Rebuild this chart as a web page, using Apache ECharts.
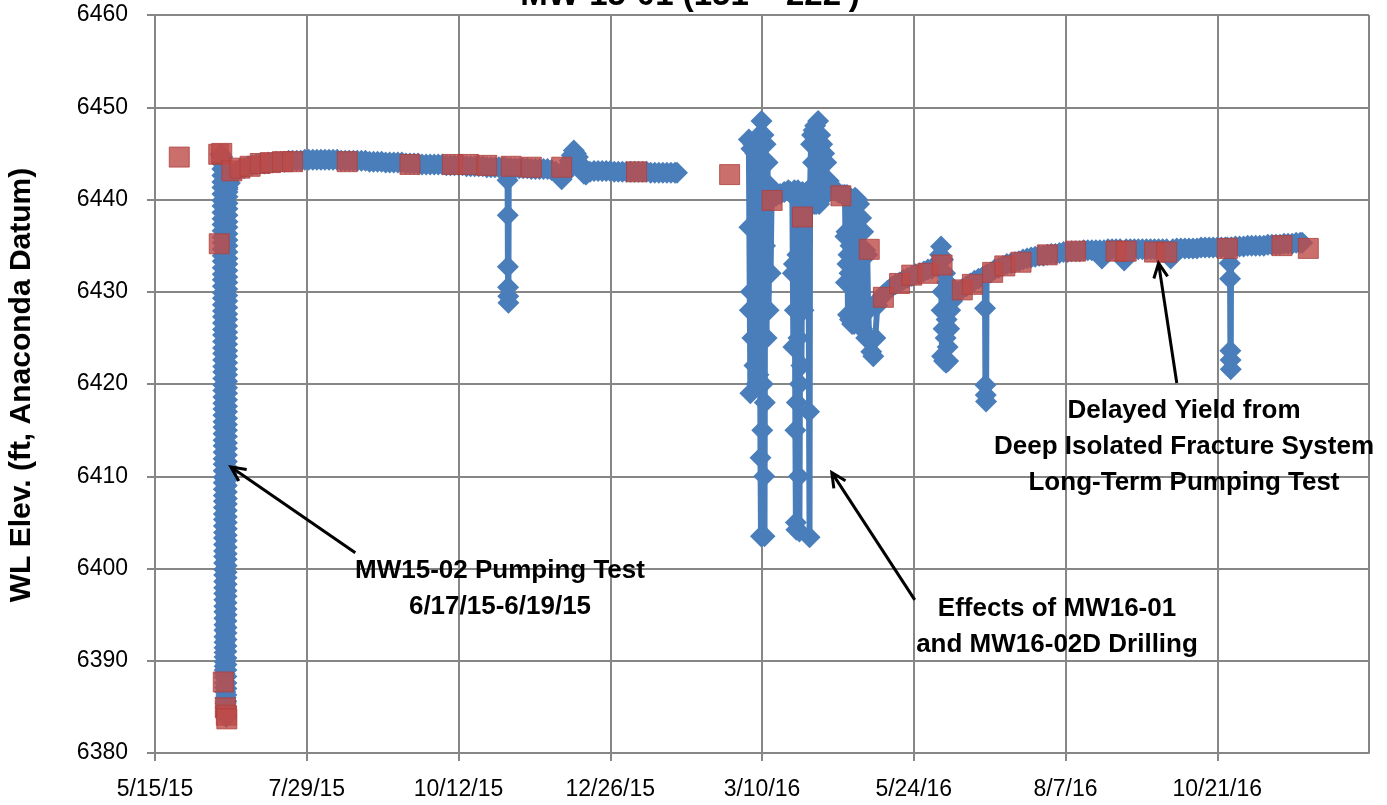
<!DOCTYPE html>
<html><head><meta charset="utf-8">
<script src="https://cdn.jsdelivr.net/npm/echarts@6/dist/echarts.min.js"></script>
<style>html,body{margin:0;padding:0;background:#fff}#c{width:1387px;height:805px}</style>
</head><body><div id="c"></div>
<script>
// ---------------- DATA ----------------
const chartTitle = "MW-15-01 (151' - 222')";
const yAxisTitle = 'WL Elev. (ft, Anaconda Datum)';
const xTickLabels = ['5/15/15','7/29/15','10/12/15','12/26/15','3/10/16','5/24/16','8/7/16','10/21/16','1/4/17'];

// pumping test transducer log: [row start, readings taken every LOG_STEP minutes]
const DRAWDOWN_LOG_STEP = 20;
const blueDrawdownLog = [
['2015-06-17 06:00',6444.6,6443.9,6443.3],['2015-06-17 07:00',6442.6,6441.9,6441.3],['2015-06-17 08:00',6440.6,6439.9,6439.3],
['2015-06-17 09:00',6438.6,6437.9,6437.3],['2015-06-17 10:00',6436.6,6435.9,6435.3],['2015-06-17 11:00',6434.6,6433.9,6433.3],
['2015-06-17 12:00',6432.6,6431.9,6431.3],['2015-06-17 13:00',6430.6,6429.9,6429.3],['2015-06-17 14:00',6428.6,6427.9,6427.3],
['2015-06-17 15:00',6426.6,6425.9,6425.3],['2015-06-17 16:00',6424.6,6423.9,6423.3],['2015-06-17 17:00',6422.6,6421.9,6421.3],
['2015-06-17 18:00',6420.6,6419.9,6419.3],['2015-06-17 19:00',6418.6,6417.9,6417.3],['2015-06-17 20:00',6416.6,6415.9,6415.3],
['2015-06-17 21:00',6414.6,6413.9,6413.3],['2015-06-17 22:00',6412.6,6411.9,6411.3],['2015-06-17 23:00',6410.6,6409.9,6409.3],
['2015-06-18 00:00',6408.6,6407.9,6407.3],['2015-06-18 01:00',6406.6,6405.9,6405.3],['2015-06-18 02:00',6404.6,6403.9,6403.3],
['2015-06-18 03:00',6402.6,6401.9,6401.3],['2015-06-18 04:00',6400.6,6399.9,6399.3],['2015-06-18 05:00',6398.6,6397.9,6397.3],
['2015-06-18 06:00',6396.6,6395.9,6395.3],['2015-06-18 07:00',6394.6,6393.9,6393.3],['2015-06-18 08:00',6392.6,6392.0,6391.4],
['2015-06-18 09:00',6390.9,6390.4,6389.9],['2015-06-18 10:00',6389.4,6389.0,6388.6]
];
const blueDrawdownTail = [
['2015-06-18 12:00',6388.2],['2015-06-18 14:00',6387.6],['2015-06-18 16:00',6387.1],['2015-06-18 18:00',6386.6],
['2015-06-18 20:00',6386.0],['2015-06-18 22:00',6385.4],['2015-06-19 00:00',6384.9],['2015-06-19 02:00',6384.5],
['2015-06-19 04:00',6384.2],['2015-06-19 05:00',6384.0],['2015-06-19 05:40',6383.9]
];
const RECOVERY_LOG_STEP = 10;
const blueRecoveryLog = [
['2015-06-19 06:00',6385.0,6385.6,6386.3],['2015-06-19 06:30',6387.0,6387.6,6388.3],['2015-06-19 07:00',6389.0,6389.6,6390.3],
['2015-06-19 07:30',6391.0,6391.6,6392.3],['2015-06-19 08:00',6393.0,6393.6,6394.3],['2015-06-19 08:30',6395.0,6395.6,6396.3],
['2015-06-19 09:00',6397.0,6397.6,6398.3],['2015-06-19 09:30',6399.0,6399.6,6400.3],['2015-06-19 10:00',6401.0,6401.6,6402.3],
['2015-06-19 10:30',6403.0,6403.6,6404.3],['2015-06-19 11:00',6405.0,6405.6,6406.3],['2015-06-19 11:30',6407.0,6407.6,6408.3],
['2015-06-19 12:00',6409.0,6409.6,6410.3],['2015-06-19 12:30',6411.0,6411.6,6412.3],['2015-06-19 13:00',6413.0,6413.6,6414.3],
['2015-06-19 13:30',6415.0,6415.6,6416.3],['2015-06-19 14:00',6417.0,6417.6,6418.3],['2015-06-19 14:30',6419.0,6419.6,6420.3],
['2015-06-19 15:00',6421.0,6421.6,6422.3],['2015-06-19 15:30',6423.0,6423.6,6424.3],['2015-06-19 16:00',6425.0,6425.6,6426.3],
['2015-06-19 16:30',6427.0,6427.6,6428.3],['2015-06-19 17:00',6429.0,6429.6,6430.3],['2015-06-19 17:30',6431.0,6431.6,6432.3],
['2015-06-19 18:00',6433.0,6433.6,6434.3],['2015-06-19 18:30',6435.0,6435.6,6436.3],['2015-06-19 19:00',6437.0,6437.6,6438.3],
['2015-06-19 19:30',6439.0,6439.6,6440.3],['2015-06-19 20:00',6440.8,6441.1,6441.3]
];
const bluePreTest = [['2015-06-16 12:00',6444.9]];
const blue2015 = [
['2015-06-21 00:00',6441.8],
['2015-06-22',6442.6],['2015-06-24',6443.0],['2015-06-26',6443.3],['2015-06-28',6443.4],['2015-06-30',6443.6],
['2015-07-02',6443.7],['2015-07-04',6443.8],['2015-07-06',6443.9],['2015-07-08',6443.9],['2015-07-10',6444.0],
['2015-07-12',6444.0],['2015-07-14',6444.1],['2015-07-16',6444.1],['2015-07-18',6444.1],['2015-07-20',6444.2],
['2015-07-22',6444.2],['2015-07-24',6444.2],['2015-07-26',6444.2],['2015-07-28',6444.3],['2015-07-30',6444.3],
['2015-08-01',6444.3],['2015-08-03',6444.3],['2015-08-05',6444.3],['2015-08-07',6444.3],['2015-08-09',6444.3],
['2015-08-11',6444.3],['2015-08-13',6444.3],['2015-08-15',6444.2],['2015-08-17',6444.2],['2015-08-19',6444.2],
['2015-08-21',6444.2],['2015-08-23',6444.2],['2015-08-25',6444.2],['2015-08-27',6444.2],['2015-08-29',6444.1],
['2015-08-31',6444.1],['2015-09-02',6444.1],['2015-09-04',6444.1],['2015-09-06',6444.0],['2015-09-08',6444.0],
['2015-09-10',6444.0],['2015-09-12',6444.0],['2015-09-14',6444.0],['2015-09-16',6443.9],['2015-09-18',6443.9],
['2015-09-20',6443.9],['2015-09-22',6443.9],['2015-09-24',6443.8],['2015-09-26',6443.8],['2015-09-28',6443.8],
['2015-09-30',6443.8],['2015-10-02',6443.8],['2015-10-04',6443.8],['2015-10-06',6443.7],['2015-10-08',6443.7],
['2015-10-10',6443.7],['2015-10-12',6443.7],['2015-10-14',6443.7],['2015-10-16',6443.6],['2015-10-18',6443.6],
['2015-10-20',6443.6],['2015-10-22',6443.6],['2015-10-24',6443.6],['2015-10-26',6443.5],['2015-10-28',6443.5],
['2015-10-30',6443.5],['2015-11-01',6443.5],['2015-11-03',6443.5],['2015-11-04',6443.5],
['2015-11-05 06:00',6442.1],['2015-11-05 08:00',6438.3],['2015-11-05 10:00',6432.7],['2015-11-05 12:00',6430.5],
['2015-11-05 14:00',6429.5],['2015-11-05 16:00',6428.8],['2015-11-05 20:00',6443.4],
['2015-11-07',6443.4],['2015-11-09',6443.4],['2015-11-11',6443.4],['2015-11-13',6443.4],['2015-11-15',6443.4],
['2015-11-17',6443.3],['2015-11-19',6443.3],['2015-11-21',6443.3],['2015-11-23',6443.3],['2015-11-25',6443.3],
['2015-11-27',6443.2],['2015-11-29',6443.0],['2015-12-01',6442.6],['2015-12-02',6442.2],['2015-12-03',6442.6],
['2015-12-04',6443.0],['2015-12-05',6443.6],['2015-12-06',6444.2],['2015-12-07',6444.8],['2015-12-08',6445.3],
['2015-12-09',6445.0],['2015-12-10',6444.6],['2015-12-11',6443.9],['2015-12-12',6443.2],['2015-12-13',6442.8],
['2015-12-14',6442.7],['2015-12-16',6443.0],['2015-12-18',6443.1],['2015-12-20',6443.1],['2015-12-22',6443.1],
['2015-12-24',6443.1],['2015-12-26',6443.1],['2015-12-28',6443.0],['2015-12-30',6443.0],['2016-01-01',6443.0],
['2016-01-03',6443.0],['2016-01-05',6443.0],['2016-01-07',6443.0],['2016-01-09',6443.0],['2016-01-11',6443.0],
['2016-01-13',6443.0],['2016-01-15',6442.9],['2016-01-17',6442.9],['2016-01-19',6442.9],['2016-01-21',6442.9],
['2016-01-23',6442.9],['2016-01-25',6442.9],['2016-01-27',6442.9],['2016-01-28',6442.9]
];
const blueGap = [['2016-02-10',null]];
const blueDrilling2016 = [
['2016-03-03 12:00',6446.5],['2016-03-03 18:00',6437.0],['2016-03-04 00:00',6428.0],['2016-03-04 06:00',6419.0],
['2016-03-04 12:00',6430.0],['2016-03-04 18:00',6445.5],['2016-03-05 06:00',6425.0],['2016-03-05 18:00',6446.0],
['2016-03-06 06:00',6422.0],['2016-03-06 18:00',6445.0],['2016-03-07 06:00',6420.0],['2016-03-07 18:00',6446.5],
['2016-03-08 06:00',6421.0],['2016-03-08 18:00',6447.0],['2016-03-09 00:00',6430.0],['2016-03-09 06:00',6412.0],
['2016-03-09 12:00',6403.5],['2016-03-09 15:00',6425.0],['2016-03-09 18:00',6448.5],['2016-03-10 00:00',6430.0],
['2016-03-10 03:00',6415.0],['2016-03-10 06:00',6403.6],['2016-03-10 09:00',6420.0],['2016-03-10 12:00',6440.0],
['2016-03-10 18:00',6447.0],['2016-03-11 00:00',6425.0],['2016-03-11 03:00',6410.0],['2016-03-11 06:00',6403.5],
['2016-03-11 09:00',6418.0],['2016-03-11 12:00',6435.0],['2016-03-11 18:00',6446.0],['2016-03-12 06:00',6425.0],
['2016-03-12 18:00',6444.0],['2016-03-13 06:00',6428.0],['2016-03-13 18:00',6441.5],['2016-03-14 06:00',6432.0],
['2016-03-14 18:00',6440.5],['2016-03-15 12:00',6440.2],['2016-03-17 00:00',6440.4],['2016-03-19 00:00',6440.6],
['2016-03-21 00:00',6440.8],['2016-03-23 00:00',6441.0],['2016-03-24 00:00',6440.8],['2016-03-25 00:00',6440.5],
['2016-03-25 06:00',6432.0],['2016-03-25 12:00',6424.0],['2016-03-25 18:00',6433.0],['2016-03-26 00:00',6441.0],
['2016-03-26 06:00',6428.0],['2016-03-26 12:00',6415.0],['2016-03-26 18:00',6405.0],['2016-03-27 00:00',6404.2],
['2016-03-27 06:00',6418.0],['2016-03-27 12:00',6434.0],['2016-03-27 18:00',6441.0],['2016-03-28 00:00',6425.0],
['2016-03-28 06:00',6410.0],['2016-03-28 12:00',6404.0],['2016-03-28 18:00',6420.0],['2016-03-29 00:00',6440.5],
['2016-03-29 12:00',6422.0],['2016-03-30 00:00',6440.8],['2016-03-30 12:00',6428.0],['2016-03-31 00:00',6440.5],
['2016-04-01 00:00',6440.8],['2016-04-02 00:00',6441.0],['2016-04-02 06:00',6417.0],['2016-04-02 12:00',6403.4],
['2016-04-02 18:00',6441.0],['2016-04-03 06:00',6446.0],['2016-04-03 12:00',6441.0],['2016-04-03 18:00',6447.0],
['2016-04-04 00:00',6440.0],['2016-04-04 06:00',6444.0],['2016-04-04 12:00',6447.5],['2016-04-04 18:00',6439.5],
['2016-04-05 06:00',6448.0],['2016-04-05 18:00',6439.5],['2016-04-06 06:00',6446.0],['2016-04-06 18:00',6448.5],
['2016-04-07 00:00',6442.0],['2016-04-07 06:00',6439.5],['2016-04-07 18:00',6447.0],['2016-04-08 06:00',6440.0],
['2016-04-08 18:00',6446.0],['2016-04-09 06:00',6440.5],['2016-04-09 18:00',6445.0],['2016-04-10 06:00',6441.0],
['2016-04-10 18:00',6444.0],['2016-04-11 06:00',6441.0],['2016-04-12 00:00',6442.0],['2016-04-13 00:00',6441.5],
['2016-04-15 00:00',6441.0],['2016-04-17 00:00',6440.7],['2016-04-19 00:00',6440.5],
['2016-04-20 00:00',6440.5],['2016-04-20 06:00',6436.0],['2016-04-20 12:00',6431.0],['2016-04-20 18:00',6436.5],
['2016-04-21 00:00',6440.5],['2016-04-21 06:00',6433.0],['2016-04-21 12:00',6427.5],['2016-04-21 18:00',6434.0],
['2016-04-22 00:00',6440.3],['2016-04-22 06:00',6432.0],['2016-04-22 12:00',6427.0],['2016-04-22 18:00',6435.0],
['2016-04-23 00:00',6440.0],['2016-04-23 06:00',6431.0],['2016-04-23 12:00',6426.5],['2016-04-23 18:00',6433.0],
['2016-04-24 00:00',6440.0],['2016-04-24 06:00',6432.0],['2016-04-24 12:00',6426.5],['2016-04-24 18:00',6434.0],
['2016-04-25 00:00',6440.2],['2016-04-25 06:00',6431.0],['2016-04-25 12:00',6427.0],['2016-04-25 18:00',6435.0],
['2016-04-26 00:00',6440.0],['2016-04-26 06:00',6432.0],['2016-04-26 12:00',6427.5],['2016-04-26 18:00',6434.0],
['2016-04-27 00:00',6439.5],['2016-04-27 12:00',6430.0],['2016-04-28 00:00',6438.0],['2016-04-28 12:00',6426.0],
['2016-04-29 00:00',6436.5],['2016-04-29 12:00',6428.0],['2016-04-30 00:00',6434.5],['2016-04-30 12:00',6425.0],
['2016-05-01 00:00',6434.0],['2016-05-01 12:00',6428.0],['2016-05-02 00:00',6425.0],['2016-05-03 00:00',6423.5],
['2016-05-04 00:00',6423.0],['2016-05-05 00:00',6425.0],['2016-05-06 00:00',6428.5]
];
const blueRecovery2016 = [
['2016-05-07',6429.2],['2016-05-09',6429.7],['2016-05-11',6430.1],['2016-05-13',6430.5],['2016-05-15',6430.8],
['2016-05-17',6431.0],['2016-05-19',6431.3],['2016-05-21',6431.5],['2016-05-23',6431.7],['2016-05-25',6431.9],
['2016-05-27',6432.0],['2016-05-29',6432.2],['2016-05-31',6432.4],['2016-06-02',6432.5],['2016-06-04',6432.8],
['2016-06-05 00:00',6433.2],['2016-06-06 00:00',6434.0],['2016-06-06 12:00',6434.9],['2016-06-06 18:00',6428.0],
['2016-06-07 00:00',6423.0],['2016-06-07 06:00',6430.0],['2016-06-07 12:00',6433.5],['2016-06-07 18:00',6426.0],
['2016-06-08 00:00',6422.5],['2016-06-08 06:00',6428.0],['2016-06-08 12:00',6432.0],['2016-06-08 18:00',6425.0],
['2016-06-09 00:00',6422.3],['2016-06-09 06:00',6427.0],['2016-06-09 12:00',6431.0],['2016-06-09 18:00',6424.0],
['2016-06-10 00:00',6422.5],['2016-06-10 12:00',6426.0],['2016-06-11 00:00',6428.0],['2016-06-12 00:00',6429.0],
['2016-06-13',6429.6],['2016-06-15',6430.0],['2016-06-17',6430.3],['2016-06-19',6430.6],['2016-06-21',6430.9],
['2016-06-23',6431.2],['2016-06-25',6431.4],['2016-06-27',6431.6],
['2016-06-28 00:00',6431.7],['2016-06-28 06:00',6428.2],['2016-06-28 10:00',6419.9],['2016-06-28 14:00',6418.8],
['2016-06-28 18:00',6418.1],['2016-06-29 00:00',6431.9],
['2016-07-01',6432.1],['2016-07-03',6432.4],['2016-07-05',6432.6],['2016-07-07',6432.8],['2016-07-09',6433.0],
['2016-07-11',6433.1],['2016-07-13',6433.2],['2016-07-15',6433.3],['2016-07-17',6433.5],['2016-07-19',6433.6],
['2016-07-21',6433.7],['2016-07-23',6433.8],['2016-07-25',6433.9],['2016-07-27',6433.9],['2016-07-29',6434.0],
['2016-07-31',6434.1],['2016-08-02',6434.1],['2016-08-04',6434.2],['2016-08-06',6434.3],['2016-08-08',6434.3],
['2016-08-10',6434.4],['2016-08-12',6434.4],['2016-08-14',6434.4],['2016-08-16',6434.5],['2016-08-18',6434.5],
['2016-08-20',6434.5],['2016-08-22',6434.5],['2016-08-24',6434.5],['2016-08-25',6433.6],['2016-08-26',6434.5],
['2016-08-28',6434.6],['2016-08-30',6434.6],['2016-09-01',6434.6],['2016-09-03',6434.6],['2016-09-05',6433.4],
['2016-09-06',6434.6],['2016-09-08',6434.6],['2016-09-10',6434.6],['2016-09-12',6434.6],['2016-09-14',6434.6],
['2016-09-16',6434.6],['2016-09-18',6434.6],['2016-09-20',6434.6],['2016-09-22',6434.6],['2016-09-24',6434.6],
['2016-09-26',6434.6],['2016-09-28',6433.6],['2016-09-29',6434.6],['2016-10-01',6434.7],['2016-10-03',6434.7],
['2016-10-05',6434.7],['2016-10-07',6434.7],['2016-10-09',6434.7],['2016-10-11',6434.7],['2016-10-13',6434.8],
['2016-10-15',6434.8],['2016-10-17',6434.8],['2016-10-19',6434.8],['2016-10-21',6434.8],['2016-10-23',6434.8],
['2016-10-25',6434.8],['2016-10-26',6434.8],
['2016-10-27 04:00',6433.1],['2016-10-27 08:00',6431.4],['2016-10-27 12:00',6423.6],['2016-10-27 14:00',6422.6],
['2016-10-27 16:00',6421.6],['2016-10-27 20:00',6434.8],
['2016-10-28',6434.8],['2016-10-30',6434.9],['2016-11-01',6434.9],['2016-11-03',6434.9],['2016-11-05',6435.0],
['2016-11-07',6435.0],['2016-11-09',6435.0],['2016-11-11',6435.0],['2016-11-13',6435.0],['2016-11-15',6435.1],
['2016-11-17',6435.1],['2016-11-19',6435.1],['2016-11-21',6435.1],['2016-11-23',6435.2],['2016-11-25',6435.2],
['2016-11-27',6435.2],['2016-11-29',6435.3],['2016-12-01',6435.3],['2016-12-02',6435.3]
];

// manual measurements (red squares)
const redManual = [
['2015-05-27',6444.6],['2015-06-15 12:00',6444.9],['2015-06-15 18:00',6435.2],['2015-06-17 00:00',6445.0],
['2015-06-17 18:00',6387.7],['2015-06-18 18:00',6384.9],['2015-06-19 06:00',6384.1],['2015-06-19 12:00',6383.7],
['2015-06-22',6443.1],['2015-06-26',6443.4],['2015-07-01',6443.6],['2015-07-06',6443.9],['2015-07-11',6444.0],
['2015-07-17',6444.1],['2015-07-22',6444.1],['2015-08-18',6444.1],['2015-09-18',6443.8],['2015-10-09',6443.8],
['2015-10-17',6443.8],['2015-10-26',6443.7],['2015-11-07',6443.6],['2015-11-17',6443.5],['2015-12-02',6443.5],
['2016-01-08',6443.0],['2016-02-23',6442.7],['2016-03-15',6439.9],['2016-03-30',6438.1],['2016-04-18',6440.4],
['2016-05-02',6434.6],['2016-05-09',6429.4],['2016-05-17',6430.9],['2016-05-23',6431.8],['2016-05-31',6432.0],
['2016-06-07',6432.9],['2016-06-17',6430.2],['2016-06-22',6430.8],['2016-07-02',6432.1],['2016-07-08',6432.8],
['2016-07-16',6433.2],['2016-07-29',6434.0],['2016-08-12',6434.4],['2016-09-01',6434.4],['2016-09-06',6434.4],
['2016-09-20',6434.3],['2016-09-26',6434.3],['2016-10-26',6434.7],['2016-11-22',6435.0],['2016-12-05',6434.7]
];

// annotations: text lines and arrow [tail date, tail elev, tip date, tip elev]
const annotations = [
  {lines:['MW15-02 Pumping Test','6/17/15-6/19/15'], arrow:['2015-08-22',6401.7,'2015-06-21 12:00',6411.0]},
  {lines:['Effects of MW16-01','and MW16-02D Drilling'], arrow:['2016-05-24 12:00',6396.6,'2016-04-13 12:00',6410.4]},
  {lines:['Delayed Yield from','Deep Isolated Fracture System','Long-Term Pumping Test'], arrow:['2016-10-01',6420.1,'2016-09-22',6433.1]}
];

// ---------------- BUILD ----------------
const ORIGIN = Date.UTC(2015,4,15);
function toDay(s){
  const m=/^(\d{4})-(\d{2})-(\d{2})(?:\s+(\d{1,2}):(\d{2}))?$/.exec(s);
  return (Date.UTC(+m[1],+m[2]-1,+m[3],m[4]?+m[4]:0,m[5]?+m[5]:0)-ORIGIN)/86400000;
}
function expandLog(log, stepMin){
  const out=[];
  log.forEach(([t,...vals])=>vals.forEach((v,k)=>out.push([toDay(t)+k*stepMin/1440,v])));
  return out;
}
const pairs = a => a.map(([d,v])=>[toDay(d), v==null?'-':v]);
const blueData=[].concat(
  pairs(bluePreTest),
  expandLog(blueDrawdownLog,DRAWDOWN_LOG_STEP),
  pairs(blueDrawdownTail),
  expandLog(blueRecoveryLog,RECOVERY_LOG_STEP),
  pairs(blue2015), pairs(blueGap), pairs(blueDrilling2016), pairs(blueRecovery2016));
const redData=pairs(redManual);

const GRAY='#868686';
const FONT='"Liberation Sans", Arial, sans-serif';
const chart=echarts.init(document.getElementById('c'),null,{renderer:'canvas'});
chart.setOption({
  animation:false,
  backgroundColor:'#ffffff',
  grid:{left:155,right:18,top:15,bottom:52,containLabel:false},
  xAxis:{type:'value',min:0,max:600,interval:75,
    axisLine:{show:true,lineStyle:{color:GRAY,width:2}},
    axisTick:{show:true,length:8,lineStyle:{color:GRAY,width:2}},
    splitLine:{show:true,lineStyle:{color:GRAY,width:2}},
    axisLabel:{color:'#000',fontFamily:FONT,fontSize:23,margin:25,showMaxLabel:false,
      formatter:v=>xTickLabels[Math.round(v/75)]||''}
  },
  yAxis:{type:'value',min:6380,max:6460,interval:10,
    axisLine:{show:true,lineStyle:{color:GRAY,width:2}},
    axisTick:{show:true,length:8,lineStyle:{color:GRAY,width:2}},
    splitLine:{show:true,lineStyle:{color:GRAY,width:2}},
    axisLabel:{color:'#000',fontFamily:FONT,fontSize:23,margin:27,formatter:v=>String(v)}
  },
  series:[
    {type:'line',data:blueData,symbol:'diamond',symbolSize:22,showSymbol:true,showAllSymbol:true,
     connectNulls:false,itemStyle:{color:'#4a7ebb',borderWidth:0},lineStyle:{color:'#4a7ebb',width:6},
     emphasis:{disabled:true},z:2},
    {type:'scatter',data:redData,symbol:'rect',symbolSize:20,
     itemStyle:{color:'#be4b48',borderColor:'#ad403d',borderWidth:1},emphasis:{disabled:true},z:3}
  ]
});

// annotation graphics
const annoText=[{pos:[500,571]},{pos:[1057,609]},{pos:[1184,411]}];
const graphics=[];
graphics.push({type:'text',x:690,y:-4,style:{text:chartTitle,font:'bold 33px '+FONT,fill:'#000',align:'center',verticalAlign:'middle'}});
graphics.push({type:'text',x:22,y:385,rotation:Math.PI/2,style:{text:yAxisTitle,font:'bold 30px '+FONT,fill:'#000',align:'center',verticalAlign:'middle'}});
annotations.forEach((a,i)=>{
  const [cx,cy]=annoText[i].pos;
  a.lines.forEach((t,j)=>{
    graphics.push({type:'text',x:cx,y:cy+j*36,style:{text:t,font:'bold 26px '+FONT,fill:'#000',align:'center',verticalAlign:'middle'}});
  });
  const S=chart.convertToPixel({gridIndex:0},[toDay(a.arrow[0]),a.arrow[1]]);
  const T=chart.convertToPixel({gridIndex:0},[toDay(a.arrow[2]),a.arrow[3]]);
  const dx=T[0]-S[0],dy=T[1]-S[1],L=Math.hypot(dx,dy),ux=dx/L,uy=dy/L;
  const hl=16,th=0.45;
  const a1=[T[0]-hl*(ux*Math.cos(th)-uy*Math.sin(th)),T[1]-hl*(uy*Math.cos(th)+ux*Math.sin(th))];
  const a2=[T[0]-hl*(ux*Math.cos(-th)-uy*Math.sin(-th)),T[1]-hl*(uy*Math.cos(-th)+ux*Math.sin(-th))];
  graphics.push({type:'polyline',shape:{points:[S,T]},style:{stroke:'#000',lineWidth:3,fill:null},z:100});
  graphics.push({type:'polyline',shape:{points:[a1,T,a2]},style:{stroke:'#000',lineWidth:3,fill:null},z:100});
});
chart.setOption({graphic:graphics});
</script></body></html>
